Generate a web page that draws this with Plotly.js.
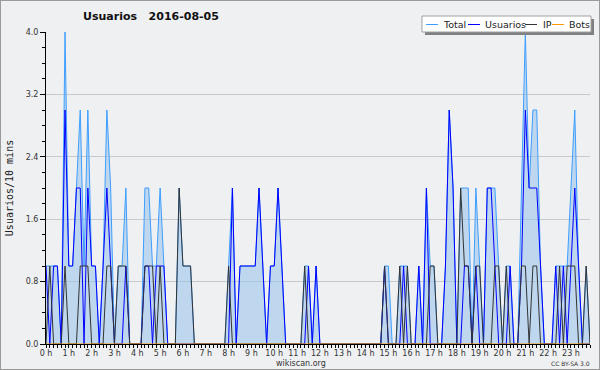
<!DOCTYPE html>
<html><head><meta charset="utf-8">
<script src="https://cdn.plot.ly/plotly-3.0.1.min.js"></script>
<style>
html,body{margin:0;padding:0;background:#eff0f2}
#frame{position:absolute;left:0;top:0;width:600px;height:370px;box-sizing:border-box;border:1px solid #9a9a9a;pointer-events:none}
</style>
</head><body>
<div id="chart" style="width:600px;height:370px"></div><div id="frame"></div>
<script>
// 10-minute slots, 144 per day
const usuarios = [
 1,0,1,1,0,3,1,1,2,2,0,2, 1,1,0,1,2,1,0,0,0,1,0,0,
 0,0,1,1,0,1,1,1,0,0,0,0, 0,0,0,0,0,0,0,0,0,0,0,0,
 0,2,0,1,1,1,1,1,2,1,0,1, 1,2,1,0,0,0,0,0,0,1,0,1,
 0,0,0,0,0,0,0,0,0,0,0,0, 0,0,0,0,0,1,0,0,0,0,1,0,
 0,0,1,0,2,0,0,0,0,1,3,2, 0,0,1,1,0,1,0,0,2,2,1,0,
 0,0,1,0,0,1,3,2,2,2,1,0, 0,0,1,0,1,0,1,2,1,0,0,0
];
const ip = [
 0,1,0,0,0,1,0,0,0,1,1,1, 0,0,0,0,1,1,0,1,1,1,0,0,
 0,0,1,1,1,0,1,0,0,0,0,2, 1,1,1,0,0,0,0,0,0,0,0,0,
 1,0,0,0,0,0,0,0,0,0,0,0, 0,0,0,0,0,0,0,0,1,0,0,0,
 0,0,0,0,0,0,0,0,0,0,0,0, 0,0,0,0,0,1,0,0,0,1,0,1,
 0,0,0,0,0,1,1,0,0,0,0,0, 0,2,1,1,0,1,1,0,0,0,1,1,
 0,1,0,0,0,1,1,0,1,1,0,0, 0,0,0,1,0,1,1,1,0,0,1,0
];
const total = [
 1,1,1,1,0,4,1,1,2,3,1,3, 1,1,0,1,3,2,0,1,1,2,0,0,
 0,0,2,2,1,1,2,1,0,0,0,2, 1,1,1,0,0,0,0,0,0,0,0,0,
 1,2,0,1,1,1,1,1,2,1,0,1, 1,2,1,0,0,0,0,0,1,1,0,1,
 0,0,0,0,0,0,0,0,0,0,0,0, 0,0,0,0,0,1,1,0,0,1,1,1,
 0,0,1,0,2,1,1,0,0,1,3,2, 0,2,2,2,0,2,1,0,2,2,2,1,
 0,1,1,0,0,2,4,2,3,3,1,0, 0,0,1,1,1,1,2,3,1,0,1,0
];
const bots = [
 0,0,0,0,0,0,0,0,0,0,0,0, 0,0,0,0,0,0,0,0,0,0,0,0,
 0,0,0,0,0,0,0,0,0,0,0,0, 0,0,0,0,0,0,0,0,0,0,0,0,
 0,0,0,0,0,0,0,0,0,0,0,0, 0,0,0,0,0,0,0,0,0,0,0,0,
 0,0,0,0,0,0,0,0,0,0,0,0, 0,0,0,0,0,0,0,0,0,0,0,0,
 0,0,0,0,0,0,0,0,0,0,0,0, 0,0,0,0,0,0,0,0,0,0,0,0,
 0,0,0,0,0,0,0,0,0,0,0,0, 0,0,0,0,0,0,0,0,0,0,0,0
];
const hourVals = [0,1,2,3,4,5,6,7,8,9,10,11,12,13,14,15,16,17,18,19,20,21,22,23];
const hourLabels = ["0 h","1 h","2 h","3 h","4 h","5 h","6 h","7 h","8 h","9 h","10 h","11 h",
  "12 h","13 h","14 h","15 h","16 h","17 h","18 h","19 h","20 h","21 h","22 h","23 h"];
const yVals = [0, 0.8, 1.6, 2.4, 3.2, 4.0];
const yLabels = ["0.0","0.8","1.6","2.4","3.2","4.0"];
const seriesNames = ["Total","Usuarios","IP","Bots"];
const seriesColors = ["#3d9eff","#0000ff","#333333","#ff9900"];

const slots = total.map((_, i) => i / 6); // hour of each 10-minute slot

const F = "DejaVu Sans";
const traces = [
  {x: slots, y: total, name: seriesNames[0], mode: "lines", fill: "tozeroy",
   fillcolor: "rgba(150,194,235,0.55)", line: {color: seriesColors[0], width: 1}},
  {x: slots, y: usuarios, name: seriesNames[1], mode: "lines", line: {color: seriesColors[1], width: 1}},
  {x: slots, y: ip, name: seriesNames[2], mode: "lines", line: {color: seriesColors[2], width: 1}},
  {x: slots, y: bots, name: seriesNames[3], mode: "lines", line: {color: seriesColors[3], width: 1}}
];

const L = 46, R = 590, T = 32, B = 344;
const px = x => (x - L) / (R - L);
const py = y => (B - y) / (B - T);

const shapes = [
  {type: "rect", xref: "paper", yref: "paper", x0: px(425), x1: px(594), y0: py(19), y1: py(35),
   fillcolor: "#808080", line: {width: 0}, layer: "above"},
  {type: "rect", xref: "paper", yref: "paper", x0: px(422), x1: px(591), y0: py(16), y1: py(32),
   fillcolor: "#ffffff", line: {color: "#a0a0a0", width: 1}, layer: "above"}
];
const annotations = [];
const legendPos = [[426, 441], [468, 483], [525, 541], [552, 567]];
seriesNames.forEach((n, k) => {
  shapes.push({type: "line", xref: "paper", yref: "paper", x0: px(legendPos[k][0]), x1: px(legendPos[k][0] + 12),
    y0: py(24.5), y1: py(24.5), line: {color: seriesColors[k], width: 1}, layer: "above"});
  annotations.push({xref: "paper", yref: "paper", x: px(legendPos[k][1]), y: py(24.5), text: n,
    showarrow: false, xanchor: "left", yanchor: "middle", font: {family: F, size: 9.5, color: "#222"}});
});
annotations.push({xref: "paper", yref: "paper", x: px(301), y: py(363), text: "wikiscan.org",
  showarrow: false, xanchor: "center", yanchor: "middle", font: {family: F, size: 8, color: "#333"}});
annotations.push({xref: "paper", yref: "paper", x: px(592), y: py(363.5), text: "CC BY-SA 3.0",
  showarrow: false, xanchor: "right", yanchor: "middle", font: {family: F, size: 6, color: "#333"}});

const layout = {
  width: 600, height: 370,
  margin: {l: L, r: 600 - R, t: T, b: 370 - B, pad: 0},
  paper_bgcolor: "#eff0f2", plot_bgcolor: "#eff0f2",
  showlegend: false,
  font: {family: F, size: 8, color: "#333"},
  title: {text: "Usuarios\u00a0\u00a0\u00a02016-08-05", font: {family: F, size: 11, weight: "bold", color: "#111"},
    x: 151 / 600, xanchor: "center", xref: "container", y: 1 - 16.5 / 370, yref: "container", yanchor: "middle"},
  xaxis: {range: [0, 143 / 6], tickmode: "array", tickvals: hourVals, ticktext: hourLabels,
    ticks: "outside", ticklen: 3, tickcolor: "#000", tickwidth: 1, ticklabelstandoff: -2,
    showline: true, linecolor: "#000", linewidth: 1, showgrid: false, zeroline: false,
    tickfont: {family: F, size: 8, color: "#333"},
    minor: {tickmode: "linear", tick0: 0, dtick: 1 / 6, ticklen: 3, tickcolor: "#000", showgrid: false}},
  yaxis: {range: [0, 4], tickmode: "array", tickvals: yVals, ticktext: yLabels,
    ticks: "outside", ticklen: 5, tickcolor: "#000", tickwidth: 1,
    showline: true, linecolor: "#000", linewidth: 1, zeroline: false,
    showgrid: true, gridcolor: "#c8c9cb", gridwidth: 1,
    tickfont: {family: F, size: 8, color: "#333"},
    minor: {tickmode: "linear", tick0: 0, dtick: 0.2, ticklen: 3, tickcolor: "#000", showgrid: false},
    title: {text: "Usuarios/10 mins", font: {family: "DejaVu Sans Mono", size: 10, color: "#222"}, standoff: 10}},
  shapes: shapes,
  annotations: annotations
};

Plotly.newPlot("chart", traces, layout, {displayModeBar: false, staticPlot: true});
</script>
</body></html>
